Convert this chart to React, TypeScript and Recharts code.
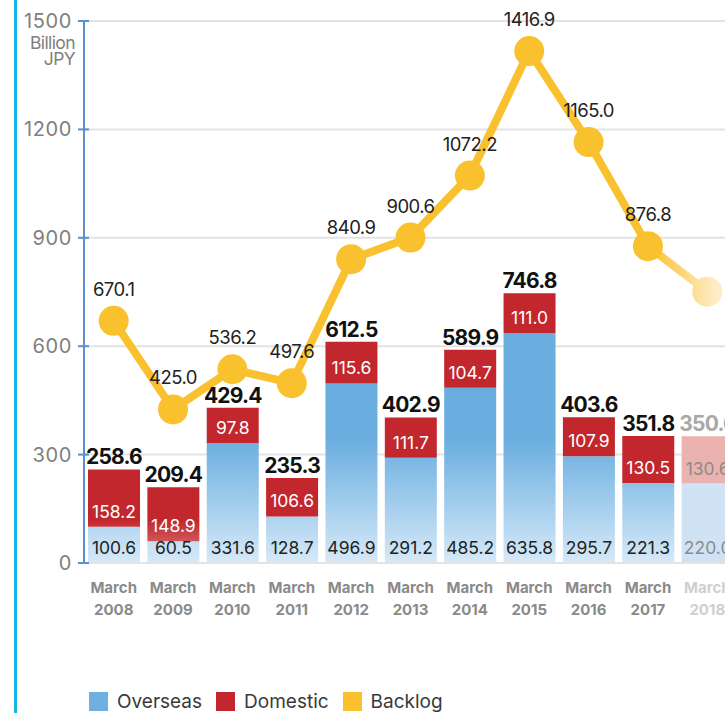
import {
  Bar,
  CartesianGrid,
  Cell,
  ComposedChart,
  LabelList,
  Legend,
  Line,
  XAxis,
  YAxis,
} from "recharts";

const years = ["2008", "2009", "2010", "2011", "2012", "2013", "2014", "2015", "2016", "2017", "2018"];
const overseas = [100.6, 60.5, 331.6, 128.7, 496.9, 291.2, 485.2, 635.8, 295.7, 221.3, 220.0];
const domestic = [158.2, 148.9, 97.8, 106.6, 115.6, 111.7, 104.7, 111.0, 107.9, 130.5, 130.6];
const totals = [258.6, 209.4, 429.4, 235.3, 612.5, 402.9, 589.9, 746.8, 403.6, 351.8, 350.6];
const backlog = [670.1, 425.0, 536.2, 497.6, 840.9, 900.6, 1072.2, 1416.9, 1165.0, 876.8, 751.0];
const yTicks = [0, 300, 600, 900, 1200, 1500];

const legendItems = [
  { name: "Overseas", color: "#6fb0e0" },
  { name: "Domestic", color: "#c1272d" },
  { name: "Backlog", color: "#f9c12e" },
];

// last year is a forecast, drawn faded
const FADED = years.length - 1;
const FONT = "Inter, 'Noto Sans', sans-serif";
const YELLOW = "#f9c12e";

const data = years.map((year, i) => ({
  year,
  overseas: overseas[i],
  domestic: domestic[i],
  backlog: backlog[i],
}));

function XTick({ x, y, payload, index }: any) {
  const fill = index === FADED ? "#cfcfcf" : "#8a8a8a";
  return (
    <text x={x} y={y} textAnchor="middle" fontSize={15} fontWeight={700} fill={fill} fontFamily={FONT}>
      <tspan x={x} dy={30}>March</tspan>
      <tspan x={x} dy={22}>{payload.value}</tspan>
    </text>
  );
}

function YTick({ x, y, payload }: any) {
  return (
    <g>
      <line x1={x - 6} x2={x + 5} y1={y} y2={y} stroke="#5b8fd0" strokeWidth={2} />
      <text x={x - 12} y={y} dy={7} textAnchor="end" fontSize={20} letterSpacing={0.6} fill="#808080" fontFamily={FONT}>
        {payload.value}
      </text>
    </g>
  );
}

function UnitLabel({ viewBox }: any) {
  const right = viewBox.x + viewBox.width - 9;
  return (
    <g fontSize={17.5} fill="#808080" fontFamily={FONT} letterSpacing={-0.6}>
      <text x={right} y={viewBox.y + 28} textAnchor="end">Billion</text>
      <text x={right} y={viewBox.y + 44} textAnchor="end">JPY</text>
    </g>
  );
}

function InnerLabel(color: string) {
  return ({ x, y, width, height, value, index }: any) => (
    <text
      x={x + width / 2}
      y={y + height - 9}
      textAnchor="middle"
      fontSize={17.5}
      fill={index === FADED ? "#8c8c8c" : color}
      fontFamily={FONT}
    >
      {Number(value).toFixed(1)}
    </text>
  );
}

function TotalLabel({ x, y, width, index }: any) {
  return (
    <text
      x={x + width / 2}
      y={y - 5}
      textAnchor="middle"
      fontSize={21}
      fontWeight={700}
      letterSpacing={-0.8}
      fill={index === FADED ? "#a8a8a8" : "#111"}
      fontFamily={FONT}
    >
      {totals[index].toFixed(1)}
    </text>
  );
}

function BacklogDot({ cx, cy, index }: any) {
  return <circle key={index} cx={cx} cy={cy} r={15} fill={index === FADED ? "url(#backlogFade)" : YELLOW} />;
}

function BacklogLabel({ x, y, value, index }: any) {
  if (index === FADED) return <g key={index} />;
  return (
    <text key={index} x={x} y={y - 25} textAnchor="middle" fontSize={18.5} fill="#222" fontFamily={FONT} letterSpacing={-0.5}>
      {Number(value).toFixed(1)}
    </text>
  );
}

function LegendBox() {
  return (
    <div style={{ display: "flex", alignItems: "center", height: 24, fontFamily: FONT, fontSize: 19, color: "#3a3a3a" }}>
      {legendItems.map((item) => (
        <div key={item.name} style={{ display: "flex", alignItems: "center", marginRight: 14 }}>
          <span style={{ width: 19, height: 19, background: item.color, marginRight: 9 }} />
          <span>{item.name}</span>
        </div>
      ))}
    </div>
  );
}

export default function App() {
  return (
    <div style={{ position: "fixed", left: 0, top: 0, width: 725, height: 713, overflow: "hidden", background: "#fff" }}>
      <div style={{ position: "absolute", left: 14, top: 0, width: 3, height: 713, background: "#1ab4ea" }} />
      <ComposedChart width={760} height={713} data={data} margin={{ top: 21, right: 23, bottom: 0, left: 0 }}>
        <defs>
          <linearGradient id="blueGrad" gradientUnits="userSpaceOnUse" x1={0} y1={563} x2={0} y2={440}>
            <stop offset="0" stopColor="#d6e9f8" />
            <stop offset="1" stopColor="#6aaee0" />
          </linearGradient>
          <linearGradient id="redGrad" gradientUnits="userSpaceOnUse" x1={0} y1={563} x2={0} y2={520}>
            <stop offset="0" stopColor="#de8585" />
            <stop offset="1" stopColor="#c1272d" />
          </linearGradient>
          <linearGradient id="backlogFade" gradientUnits="userSpaceOnUse" x1={648} y1={0} x2={716} y2={0}>
            <stop offset="0" stopColor={YELLOW} />
            <stop offset="1" stopColor="#fdecc6" />
          </linearGradient>
        </defs>
        <CartesianGrid vertical={false} stroke="#e3e3e3" strokeWidth={2} />
        <XAxis
          dataKey="year"
          height={126}
          tickLine={false}
          tickSize={0}
          tickMargin={0}
          axisLine={{ stroke: "#e3e3e3", strokeWidth: 2 }}
          tick={<XTick />}
          interval={0}
        />
        <YAxis
          width={84}
          domain={[0, 1500]}
          ticks={yTicks}
          tickLine={false}
          tickSize={0}
          tickMargin={0}
          axisLine={{ stroke: "#5b8fd0", strokeWidth: 2 }}
          tick={<YTick />}
          label={(props: any) => <UnitLabel {...props} />}
        />
        <Legend verticalAlign="bottom" align="left" wrapperStyle={{ left: 89 }} content={<LegendBox />} />
        <Bar dataKey="overseas" stackId="s" barSize={52} fill="url(#blueGrad)" isAnimationActive={false}>
          {data.map((_, i) => (
            <Cell key={i} fill={i === FADED ? "#cfe3f5" : "url(#blueGrad)"} />
          ))}
          <LabelList dataKey="overseas" content={InnerLabel("#222")} />
        </Bar>
        <Bar dataKey="domestic" stackId="s" barSize={52} fill="url(#redGrad)" isAnimationActive={false}>
          {data.map((_, i) => (
            <Cell key={i} fill={i === FADED ? "#eab3b0" : "url(#redGrad)"} />
          ))}
          <LabelList dataKey="domestic" content={InnerLabel("#fff")} />
          <LabelList dataKey="domestic" content={<TotalLabel />} />
        </Bar>
        <Line
          dataKey="backlog"
          stroke="url(#backlogFade)"
          strokeWidth={8}
          dot={(p: any) => <BacklogDot key={p.index} {...p} />}
          activeDot={false}
          label={(p: any) => <BacklogLabel key={p.index} {...p} />}
          isAnimationActive={false}
        />
      </ComposedChart>
    </div>
  );
}
